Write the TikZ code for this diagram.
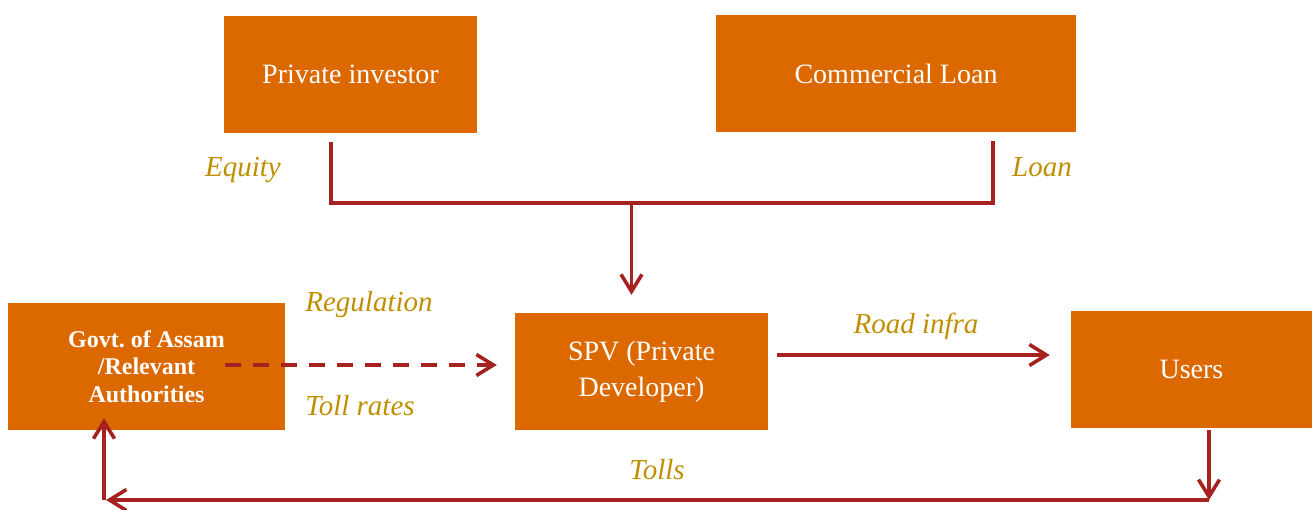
\documentclass[tikz,border=0pt]{standalone}
\usepackage{fontspec}
\setmainfont{Liberation Serif}
\usetikzlibrary{arrows.meta}
\frenchspacing
\definecolor{pwcorange}{HTML}{DC6900}
\definecolor{pwcred}{HTML}{A52220}
\definecolor{pwcgold}{HTML}{BF8F00}
\tikzset{
  box/.style={rectangle, fill=pwcorange, draw=none, text=white, align=center, inner sep=0pt, font=\fontsize{28}{36}\selectfont},
  conn/.style={draw=pwcred, line width=3.6pt},
  tip/.style={-{Straight Barb[length=17pt,width=21pt]}},
  lbl/.style={text=pwcgold, font=\fontsize{29}{34}\selectfont\itshape, inner sep=0pt, anchor=base},
}
\begin{document}
\begin{tikzpicture}[x=1pt,y=-1pt]
\useasboundingbox (0,0) rectangle (1312,509);
\node[box, minimum width=253pt, minimum height=117pt] (inv) at (350.5,74.5) {Private investor};
\node[box, minimum width=360pt, minimum height=117pt] (loan) at (896,73.5) {Commercial Loan};
\node[box, minimum width=277pt, minimum height=127pt, font=\bfseries\fontsize{24}{27.5}\selectfont] (govt) at (146.5,366.5) {Govt. of Assam\\/Relevant\\Authorities};
\node[box, minimum width=253pt, minimum height=117pt] (spv) at (641.5,371.5) {SPV (Private\\Developer)};
\node[box, minimum width=241pt, minimum height=117pt] (users) at (1191.5,369.5) {Users};

\coordinate (jm) at (631.5,203);
\coordinate (cb1) at (1209,500);
\coordinate (cb2) at (106,500);

\draw[conn] ([xshift=-19.5pt,yshift=-9pt]inv.south) -- ([xshift=-19.5pt]inv.south |- jm)
  -- ([xshift=97pt]loan.south |- jm) -- ([xshift=97pt,yshift=-9pt]loan.south);
\draw[conn, tip] (jm) -- ([xshift=-10pt,yshift=18pt]spv.north);
\draw[conn, tip, dash pattern=on 16pt off 12pt] ([xshift=-60pt,yshift=1.5pt]govt.east) -- ([xshift=-18pt,yshift=6.5pt]spv.west);
\draw[conn, tip] ([xshift=9pt,yshift=16.5pt]spv.east) -- ([xshift=-21pt,yshift=14.5pt]users.west);
\draw[conn, tip] ([xshift=17.5pt,yshift=-2pt]users.south) -- (cb1);
\draw[conn, tip] (cb1) -- (cb2);
\draw[conn, tip] ([xshift=-2pt]cb2) -- ([xshift=-42.5pt,yshift=12pt]govt.south);

\node[lbl] (leq) at (243,176) {Equity};
\node[lbl] (lln) at (1042,176) {Loan};
\node[lbl] (lreg) at (369,311) {Regulation};
\node[lbl] (ltr) at (360,415) {Toll rates};
\node[lbl] (lri) at (916,333) {Road infra};
\node[lbl] (ltl) at (657,479) {Tolls};
\end{tikzpicture}
\end{document}
